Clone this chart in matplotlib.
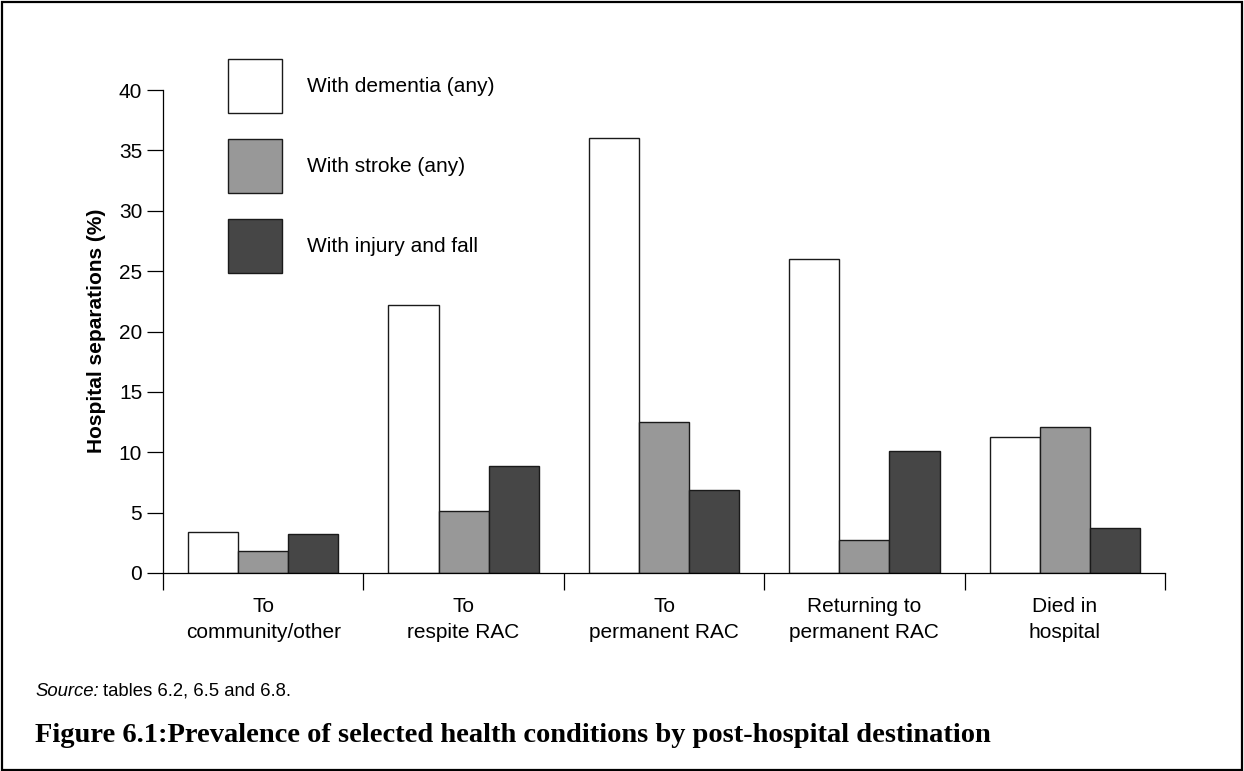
#!/usr/bin/env python3

import numpy as np
import matplotlib
matplotlib.use('Agg')

import matplotlib.pyplot as plt
from matplotlib.patches import Rectangle

# data
categories = ['To\ncommunity/other', 'To\nrespite RAC', 'To\npermanent RAC',
              'Returning to\npermanent RAC', 'Died in\nhospital']
series = ['With dementia (any)', 'With stroke (any)', 'With injury and fall']
dementia = [3.4, 22.2, 36.0, 26.0, 11.3]
stroke = [1.8, 5.1, 12.5, 2.7, 12.1]
injury = [3.2, 8.9, 6.9, 10.1, 3.7]
colors = ['#ffffff', '#989898', '#464646']
yticks = [0, 5, 10, 15, 20, 25, 30, 35, 40]


def main():
    plt.rcParams['font.family'] = ['Liberation Sans', 'DejaVu Sans']
    W, H = 1244, 771
    fig = plt.figure(figsize=(W / 100, H / 100), dpi=100)
    ax = fig.add_axes([163 / W, 1 - 573 / H, (1165 - 163) / W, (573 - 90) / H])

    x = np.arange(len(categories))
    width = 0.25
    for i, (vals, name) in enumerate(zip([dementia, stroke, injury], series)):
        ax.bar(x + (i - 1) * width, vals, width, color=colors[i],
               edgecolor='#1a1a1a', linewidth=1.0, label=name)

    ax.set_xlim(-0.5, len(categories) - 0.5)
    ax.set_ylim(0, 40)
    ax.set_yticks(yticks)
    ax.tick_params(axis='y', length=11.5, width=0.9, pad=3.5, labelsize=15)
    ax.set_xticks(np.arange(len(categories) + 1) - 0.5)
    ax.set_xticklabels([])
    ax.tick_params(axis='x', length=12.5, width=0.9)
    # category labels sit between the ticks
    ax.set_xticks(x, minor=True)
    ax.set_xticklabels(categories, minor=True, fontsize=15, linespacing=1.5)
    ax.tick_params(axis='x', which='minor', length=0, pad=17)

    for s in ['top', 'right']:
        ax.spines[s].set_visible(False)
    ax.spines['left'].set_bounds(0, 40)
    ax.spines['left'].set_linewidth(0.9)
    ax.spines['bottom'].set_linewidth(0.9)

    ax.set_ylabel('Hospital separations (%)', fontsize=15, fontweight='bold')
    ax.yaxis.set_label_coords(106 / W, 1 - 331 / H, transform=fig.transFigure)

    ax.legend(loc='upper left', bbox_to_anchor=(228 / W, 1 - 59 / H),
              bbox_transform=fig.transFigure, frameon=False, fontsize=15,
              handlelength=2.6, handleheight=3.61, labelspacing=1.25,
              handletextpad=1.2, borderpad=0, borderaxespad=0)

    # source line: italic "Source:" then plain text
    t1 = fig.text(35 / W, 1 - 696 / H, 'Source:', fontsize=13.3, style='italic',
                  va='baseline')
    fig.canvas.draw()
    bb = t1.get_window_extent()
    fig.text((bb.x1 + 4) / W, 1 - 696 / H, 'tables 6.2, 6.5 and 6.8.',
             fontsize=13.3, va='baseline')

    fig.text(35 / W, 1 - 742 / H,
             'Figure 6.1:Prevalence of selected health conditions by post-hospital destination',
             fontsize=20.5, fontweight='bold', family=['Liberation Serif', 'DejaVu Serif'],
             va='baseline')

    fig.patches.append(Rectangle((2 / W, 1.5 / H), 1240 / W, 767.5 / H,
                                 transform=fig.transFigure, fill=False,
                                 edgecolor='black', linewidth=1.6))

    plt.savefig('out.png', dpi=100)


if __name__ == "__main__":
    main()
